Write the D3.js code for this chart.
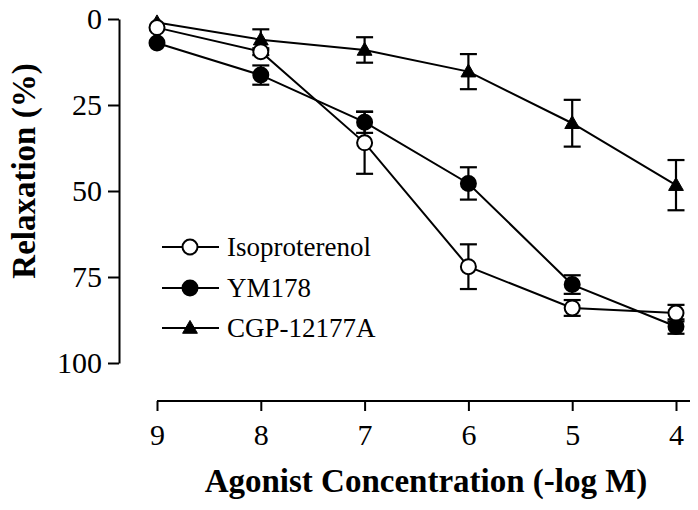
<!DOCTYPE html>
<html>
<head>
<meta charset="utf-8">
<script src="https://cdn.jsdelivr.net/npm/d3@7"></script>
<style>
  html, body { margin: 0; padding: 0; background: #fff; }
  svg { display: block; }
</style>
</head>
<body>
<svg id="chart" width="698" height="510"></svg>
<script>
// ---- data ----
const concentrations = [9, 8, 7, 6, 5, 4];          // -log M
const isoValues  = [2.5, 9.5, 36, 72, 84, 85.5];     // Isoproterenol, % relaxation
const isoErrors  = [0, 1, 9, 6.5, 2.3, 2.4];
const ymValues   = [7, 16.3, 30, 47.8, 77.2, 89.4];  // YM178
const ymErrors   = [0, 2.8, 3.1, 4.7, 2.7, 2.1];
const cgpValues  = [1, 6, 9, 15.3, 30.3, 48.3];      // CGP-12177A
const cgpErrors  = [0, 3, 3.7, 5.1, 6.8, 7.3];
const yTicks     = [0, 25, 50, 75, 100];
const seriesNames = ["Isoproterenol", "YM178", "CGP-12177A"];
const seriesMarkers = ["openCircle", "filledCircle", "triangle"];

const series = [
  { name: seriesNames[0], marker: seriesMarkers[0], values: isoValues, errors: isoErrors },
  { name: seriesNames[1], marker: seriesMarkers[1], values: ymValues,  errors: ymErrors },
  { name: seriesNames[2], marker: seriesMarkers[2], values: cgpValues, errors: cgpErrors }
];

const svg = d3.select("#chart");
function serif(sel, size, bold) {
  sel.attr("font-family", "Liberation Serif")
     .attr("font-size", size)
     .attr("font-weight", bold ? "bold" : "normal")
     .attr("fill", "#000")
     .style("font-family", "'Liberation Serif'")
     .style("font-size", size + "px")
     .style("font-weight", bold ? "bold" : "normal");
  return sel;
}

const x = d3.scaleLinear().domain([9, 4]).range([157, 676]);
const y = d3.scaleLinear().domain([0, 100]).range([19, 363]);

// ---- axes ----
const yAxis = d3.axisLeft(y).tickValues(yTicks).tickSize(11).tickSizeOuter(0).tickPadding(6)
  .tickFormat(d3.format("d"));
const gy = svg.append("g").attr("transform", "translate(119,0)").call(yAxis);
gy.attr("font-family", "Liberation Serif").attr("font-size", 30);
gy.selectAll("path,line").attr("stroke", "#000").attr("stroke-width", 2);
serif(gy.selectAll("text"), 30, false);

const xAxis = d3.axisBottom(x).tickValues(concentrations).tickSize(10).tickSizeOuter(0).tickPadding(13)
  .tickFormat(d3.format("d"));
const gx = svg.append("g").attr("transform", "translate(0,401)").call(xAxis);
gx.attr("font-family", "Liberation Serif").attr("font-size", 30);
gx.select(".domain").attr("d", `M${x(9)},0H690`);
gx.selectAll("path,line").attr("stroke", "#000").attr("stroke-width", 2);
serif(gx.selectAll("text"), 30, false);

// ---- axis titles ----
serif(svg.append("text"), 33, true)
  .attr("transform", "translate(35,171) rotate(-90)")
  .attr("text-anchor", "middle")
  .text("Relaxation (%)");

serif(svg.append("text"), 33, true)
  .attr("x", 426).attr("y", 492)
  .attr("text-anchor", "middle")
  .text("Agonist Concentration (-log M)");

// ---- marker drawing ----
const triPath = d3.symbol().type(d3.symbolTriangle).size(95);
function drawMarker(g, type, cx, cy) {
  if (type === "triangle") {
    g.append("path").attr("d", triPath()).attr("transform", `translate(${cx},${cy + 1})`)
      .attr("fill", "#000").attr("stroke", "#000").attr("stroke-width", 1);
  } else {
    g.append("circle").attr("cx", cx).attr("cy", cy).attr("r", 7.5)
      .attr("fill", type === "openCircle" ? "#fff" : "#000")
      .attr("stroke", "#000").attr("stroke-width", 2);
  }
}

const line = d3.line().x((d, i) => x(concentrations[i])).y(d => y(d));

// lines
series.forEach(s => {
  svg.append("path").datum(s.values).attr("d", line)
    .attr("fill", "none").attr("stroke", "#000").attr("stroke-width", 2);
});

// error bars
const capHalf = 8.5;
series.forEach(s => {
  const g = svg.append("g").attr("stroke", "#000").attr("stroke-width", 2.2);
  s.values.forEach((v, i) => {
    const e = s.errors[i];
    if (!e) return;
    const cx = x(concentrations[i]);
    const y1 = y(v - e), y2 = y(v + e);
    g.append("line").attr("x1", cx).attr("x2", cx).attr("y1", y1).attr("y2", y2);
    g.append("line").attr("x1", cx - capHalf).attr("x2", cx + capHalf).attr("y1", y1).attr("y2", y1);
    g.append("line").attr("x1", cx - capHalf).attr("x2", cx + capHalf).attr("y1", y2).attr("y2", y2);
  });
});

// markers (triangle first so circles sit on top at overlaps)
[series[2], series[1], series[0]].forEach(s => {
  const g = svg.append("g");
  s.values.forEach((v, i) => drawMarker(g, s.marker, x(concentrations[i]), y(v)));
});

// ---- legend ----
const legendRows = [247, 288, 328];
series.forEach((s, i) => {
  const g = svg.append("g");
  const ly = legendRows[i];
  g.append("line").attr("x1", 162).attr("x2", 219).attr("y1", ly).attr("y2", ly)
    .attr("stroke", "#000").attr("stroke-width", 2);
  drawMarker(g, s.marker, 190, ly);
  serif(g.append("text"), 27, false).attr("x", 227).attr("y", ly + 9).text(s.name);
});
</script>
</body>
</html>
